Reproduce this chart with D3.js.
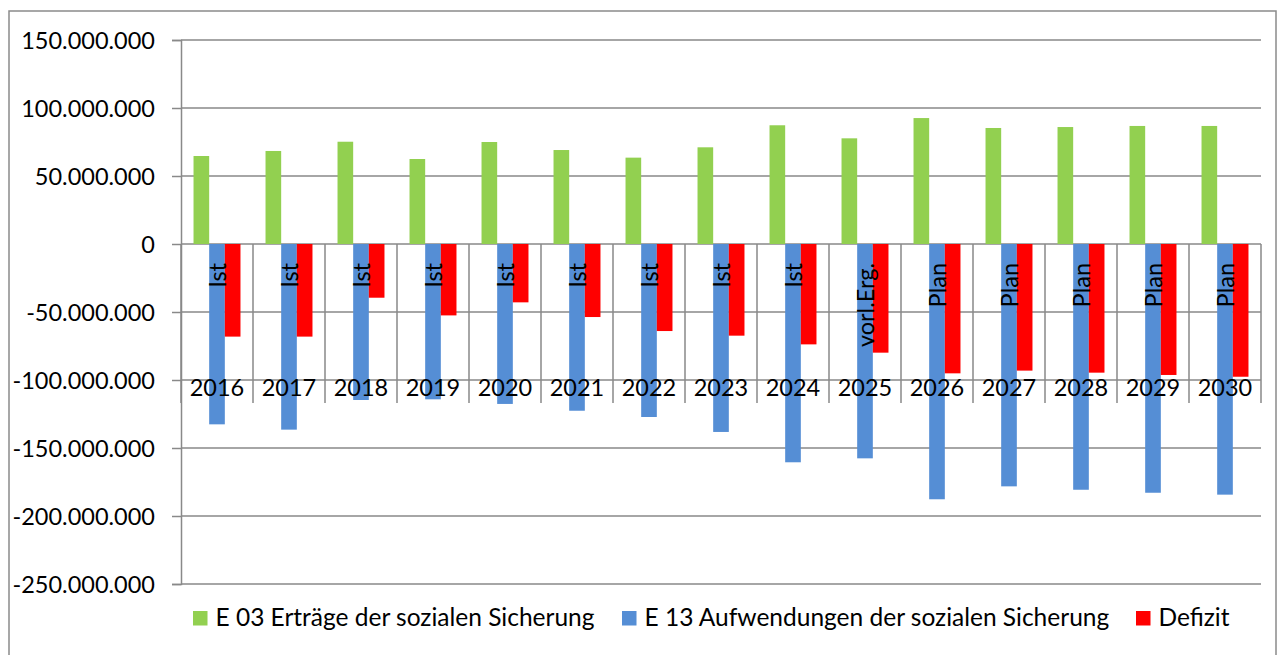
<!DOCTYPE html>
<html>
<head>
<meta charset="utf-8">
<script src="https://cdn.jsdelivr.net/npm/d3@7"></script>
<style>
  html, body { margin: 0; padding: 0; background: #fff; }
  svg { display: block; }
  text { font-family: Lato, "Open Sans", sans-serif; fill: #000; }
</style>
</head>
<body>
<svg id="chart" width="1283" height="655"></svg>
<script>
// ---- data ----
const years = ["2016","2017","2018","2019","2020","2021","2022","2023","2024","2025","2026","2027","2028","2029","2030"];
const status = ["Ist","Ist","Ist","Ist","Ist","Ist","Ist","Ist","Ist","vorl.Erg.","Plan","Plan","Plan","Plan","Plan"];
const seriesNames = ["E 03 Erträge der sozialen Sicherung", "E 13 Aufwendungen der sozialen Sicherung", "Defizit"];
const seriesColors = ["#92D050", "#558ED5", "#FF0000"];
const ertraege = [64700000, 68400000, 75200000, 62500000, 75000000, 69100000, 63500000, 71100000, 87300000, 77700000, 92600000, 85300000, 86000000, 86800000, 86800000];
const aufwendungen = [-132600000, -136500000, -114700000, -114200000, -117600000, -122600000, -127200000, -138200000, -160500000, -157600000, -187700000, -178200000, -180700000, -182900000, -184300000];
const defizit = [-68100000, -68100000, -39500000, -52500000, -42900000, -53700000, -64000000, -67400000, -73800000, -79900000, -95100000, -93100000, -94600000, -96300000, -97600000];
const yTicks = [-250000000, -200000000, -150000000, -100000000, -50000000, 0, 50000000, 100000000, 150000000];

// ---- layout ----
const svg = d3.select("#chart");
const plot = { left: 181, right: 1261, top: 40, bottom: 584 };
const fontSize = 23.5;
const legendFontSize = 24.5;
const gridColor = "#898989";

// outer border
svg.append("rect")
  .attr("x", 9).attr("y", 11).attr("width", 1267).attr("height", 700)
  .attr("fill", "none").attr("stroke", "#8a8a8a").attr("stroke-width", 1.5);

const y = d3.scaleLinear().domain([-250000000, 150000000]).range([plot.bottom, plot.top]);
const x0 = d3.scaleBand().domain(years).range([plot.left, plot.right]).padding(0);
const x1 = d3.scaleBand().domain(seriesNames).range([0, x0.bandwidth()]).paddingInner(0).paddingOuter(0.8);

const de = d3.formatLocale({ decimal: ",", thousands: ".", grouping: [3], currency: ["", " €"], minus: "-" });
const fmt = de.format(",.0f");

// gridlines
svg.append("g").selectAll("line").data(yTicks).join("line")
  .attr("x1", plot.left).attr("x2", plot.right)
  .attr("y1", d => y(d)).attr("y2", d => y(d))
  .attr("stroke", gridColor).attr("stroke-width", 1.5);

// value axis
const yAxis = svg.append("g").attr("transform", `translate(${plot.left},0)`)
  .call(d3.axisLeft(y).tickValues(yTicks).tickSize(9).tickPadding(17).tickFormat(fmt));
yAxis.select(".domain").attr("stroke", gridColor).attr("stroke-width", 1.5);
yAxis.selectAll(".tick line").attr("stroke", gridColor).attr("stroke-width", 1.5);
yAxis.selectAll(".tick text").attr("font-size", fontSize).attr("font-family", "Lato, 'Open Sans', sans-serif")
  .attr("fill", "#000").attr("dy", "0.36em");

// category separators (multi-level axis)
const bounds = years.map(d => x0(d)).concat([x0.range()[1]]);
svg.append("g").selectAll("line").data(bounds).join("line")
  .attr("x1", d => d).attr("x2", d => d)
  .attr("y1", y(0)).attr("y2", 403)
  .attr("stroke", gridColor).attr("stroke-width", 1.5);

// bars
const seriesData = [ertraege, aufwendungen, defizit];
seriesData.forEach((vals, si) => {
  svg.append("g").selectAll("rect").data(vals).join("rect")
    .attr("x", (d, i) => x0(years[i]) + x1(seriesNames[si]))
    .attr("width", x1.bandwidth())
    .attr("y", d => Math.min(y(d), y(0)))
    .attr("height", d => Math.abs(y(d) - y(0)))
    .attr("fill", seriesColors[si]);
});

// category labels: inner level (rotated), outer level (years)
svg.append("g").selectAll("text").data(status).join("text")
  .attr("transform", (d, i) => `translate(${x0(years[i]) + x0.bandwidth() / 2 + 9},263) rotate(-90)`)
  .attr("text-anchor", "end")
  .attr("font-size", fontSize)
  .text(d => d);

svg.append("g").selectAll("text").data(years).join("text")
  .attr("x", d => x0(d) + x0.bandwidth() / 2)
  .attr("y", 396)
  .attr("text-anchor", "middle")
  .attr("font-size", fontSize)
  .text(d => d);

// legend
const legendX = [193, 622, 1136];
const legend = svg.append("g").selectAll("g").data(seriesNames).join("g")
  .attr("transform", (d, i) => `translate(${legendX[i]},0)`);
legend.append("rect").attr("x", 0).attr("y", 611).attr("width", 14.5).attr("height", 14.5)
  .attr("fill", (d, i) => seriesColors[i]);
legend.append("text").attr("x", 22.5).attr("y", 626).attr("font-size", legendFontSize).text(d => d);
</script>
</body>
</html>
